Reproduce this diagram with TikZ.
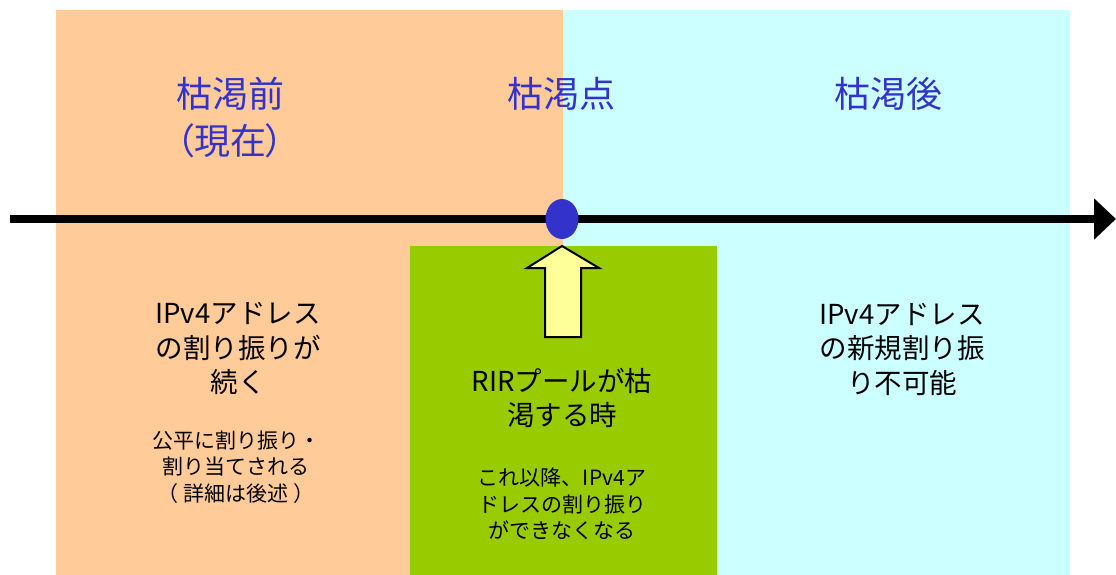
\documentclass[tikz,border=0pt]{standalone}
\usepackage{fontspec}
\newfontfamily\jp{Noto Sans CJK JP}
\newfontfamily\jpt[RawFeature=+palt]{Noto Sans CJK JP}
\usetikzlibrary{arrows.meta,shapes.geometric}
\definecolor{preorange}{HTML}{FFCC99}
\definecolor{postcyan}{HTML}{CCFFFF}
\definecolor{poolgreen}{HTML}{99CC00}
\definecolor{titleblue}{HTML}{3333CC}
\definecolor{arrowyellow}{HTML}{FFFF99}
\begin{document}
\begin{tikzpicture}[x=1pt,y=-1pt,
  region/.style={draw=none,inner sep=0pt,outer sep=0pt,anchor=north west},
  title/.style={text=titleblue,font=\jpt\fontsize{36}{46}\selectfont,inner sep=0pt,align=center},
  bodytext/.style={text=black,font=\jp\fontsize{27.5}{34.5}\selectfont,inner sep=0pt,align=center},
  smalltext/.style={text=black,font=\jp\fontsize{21}{26.5}\selectfont,inner sep=0pt,align=center},
  axisline/.style={line width=8pt,-{Triangle[length=22pt,width=40pt]}},
  blockarrow/.style={draw=black,fill=arrowyellow,line width=2pt,line join=miter}
]
\useasboundingbox (0,0) rectangle (1116,575);
% backgrounds
\node[region,fill=preorange,minimum width=507pt,minimum height=565pt] (pre) at (56,10) {};
\node[region,fill=postcyan,minimum width=507pt,minimum height=565pt] (post) at (563,10) {};
\node[region,fill=poolgreen,minimum width=307pt,minimum height=329pt] (pool) at (410,246) {};
% titles
\node[title] (tpre) at (230,94) {枯渇前};
\node[title] (tnow) at (230,141) {（現在）};
\node[title] (tpoint) at (561,94) {枯渇点};
\node[title] (tpost) at (888,94) {枯渇後};
% axis
\coordinate (axL) at (10,219);
\coordinate (axR) at (1116,219);
\draw[axisline] (axL) -- (axR);
\node[ellipse,fill=titleblue,draw=none,minimum width=33pt,minimum height=40pt,inner sep=0pt] (dot) at (562,219) {};
% block arrow pointing up to the dot
\draw[blockarrow] (562,246) -- (599,268) -- (581,268) -- (581,337) -- (545,337) -- (545,268) -- (527,268) -- cycle;
% texts
\node[bodytext] (lmain) at (238,349) {IPv4アドレス\\の割り振りが\\続く};
\node[smalltext] (lsmall) at (236,467) {公平に割り振り・\\割り当てされる\\（ 詳細は後述 ）};
\node[bodytext] (gmain) at (562,398) {RIRプールが枯\\渇する時};
\node[smalltext] (gsmall) at (562,504) {これ以降、IPv4ア\\ドレスの割り振り\\ができなくなる};
\node[bodytext] (rmain) at (902,349) {IPv4アドレス\\の新規割り振\\り不可能};
\end{tikzpicture}
\end{document}
